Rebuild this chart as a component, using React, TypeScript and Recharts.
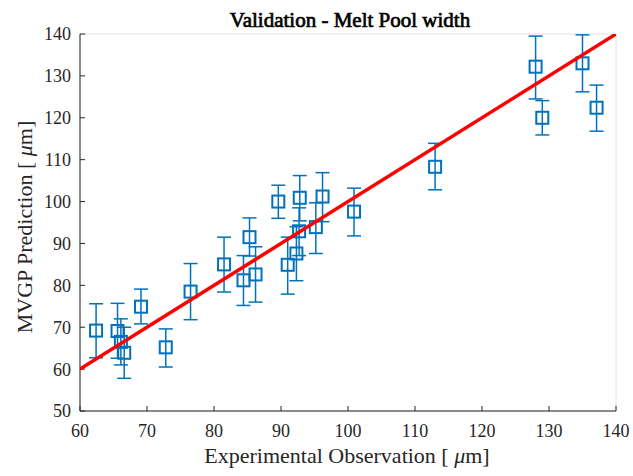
import React from "react";
import { ScatterChart, Scatter, XAxis, YAxis, CartesianGrid, ErrorBar, Label } from "recharts";

// experimental observation (x) vs MVGP prediction (y), with lower / upper error
const expObs = [62.4, 65.6, 66.1, 66.6, 69.1, 72.8, 76.5, 81.5, 84.4, 85.3, 86.2, 89.6, 91.0, 92.3, 92.7, 92.8, 95.2, 96.2, 100.9, 113.0, 128.0, 129.0, 135.0, 137.1];
const mvgpPred = [69.2, 69.1, 66.5, 63.9, 74.9, 65.2, 78.5, 85.0, 81.2, 91.5, 82.6, 100.0, 84.9, 87.6, 92.9, 100.9, 93.9, 101.2, 97.6, 108.3, 132.2, 120.0, 133.0, 122.4];
const errLow = [6.5, 6.5, 5.5, 6.1, 4.1, 4.7, 6.7, 6.6, 6.0, 4.5, 6.6, 4.0, 7.0, 6.5, 5.8, 5.5, 6.3, 6.0, 5.8, 5.5, 7.7, 4.1, 6.8, 5.6];
const errHigh = [6.4, 6.6, 5.5, 6.1, 4.2, 4.4, 6.7, 6.5, 5.9, 4.6, 6.6, 3.9, 6.6, 6.4, 5.6, 5.3, 5.8, 5.7, 5.6, 5.6, 7.3, 4.1, 6.8, 5.4];

const xTicks = [60, 70, 80, 90, 100, 110, 120, 130, 140];
const yTicks = [50, 60, 70, 80, 90, 100, 110, 120, 130, 140];
const idealX = [60, 140];

const points = expObs.map((x, i) => ({ x, y: mvgpPred[i], err: [errLow[i], errHigh[i]] }));
const ideal = idealX.map((v) => ({ x: v, y: v }));

const BLUE = "#0072BD";
const AXIS = "#262626";
const FONT = "Liberation Serif";

const Square = (props: any) => {
  const { cx, cy } = props;
  if (cx == null || cy == null) return null;
  return <rect x={cx - 6} y={cy - 6} width={12} height={12} fill="none" stroke={BLUE} strokeWidth={2} />;
};

const tickStyle = { fontSize: 18, fill: AXIS, fontFamily: FONT };

export default function App() {
  return (
    <div style={{ position: "absolute", left: 0, top: 0, width: 633, height: 476, background: "#fff" }}>
      <ScatterChart width={633} height={476} margin={{ top: 34, right: 17, bottom: 0, left: 0 }}>
        <CartesianGrid stroke="#e0e0e0" strokeWidth={1} />
        <XAxis
          xAxisId="b"
          type="number"
          dataKey="x"
          domain={[60, 140]}
          ticks={xTicks}
          height={65}
          allowDataOverflow
          stroke={AXIS}
          tick={tickStyle}
          tickSize={-5}
          tickMargin={18}
        >
          <Label
            content={() => (
              <g>
                <text
                  x={350}
                  y={27}
                  textAnchor="middle"
                  fontSize={21}
                  fontFamily={FONT}
                  fill="#000"
                  stroke="#000"
                  strokeWidth={0.7}
                >
                  Validation - Melt Pool width
                </text>
                <text x={347} y={463} textAnchor="middle" fontSize={22} fontFamily={FONT} fill={AXIS}>
                  Experimental Observation [  <tspan fontStyle="italic">μ</tspan>m]
                </text>
              </g>
            )}
          />
        </XAxis>
        <XAxis
          xAxisId="t"
          orientation="top"
          type="number"
          dataKey="x"
          domain={[60, 140]}
          ticks={xTicks}
          height={0}
          allowDataOverflow
          stroke={AXIS}
          tickFormatter={() => ""}
          tickSize={-5}
        />
        <YAxis
          yAxisId="l"
          type="number"
          dataKey="y"
          domain={[50, 140]}
          ticks={yTicks}
          width={80}
          allowDataOverflow
          stroke={AXIS}
          tick={tickStyle}
          tickSize={-5}
          tickMargin={14}
        >
          <Label
            content={() => (
              <text
                x={32}
                y={227}
                transform="rotate(-90 32 227)"
                textAnchor="middle"
                fontSize={22}
                fontFamily={FONT}
                fill={AXIS}
              >
                MVGP Prediction [ <tspan fontStyle="italic">μ</tspan>m]
              </text>
            )}
          />
        </YAxis>
        <YAxis
          yAxisId="r"
          orientation="right"
          type="number"
          dataKey="y"
          domain={[50, 140]}
          ticks={yTicks}
          width={0}
          allowDataOverflow
          stroke={AXIS}
          tickFormatter={() => ""}
          tickSize={-5}
        />
        <Scatter
          xAxisId="b"
          yAxisId="l"
          data={points}
          shape={<Square />}
          isAnimationActive={false}
        >
          <ErrorBar dataKey="err" direction="y" width={7} stroke={BLUE} strokeWidth={1.5} />
        </Scatter>
        <Scatter
          xAxisId="b"
          yAxisId="l"
          data={ideal}
          line={{ stroke: "#ff0000", strokeWidth: 3.5 }}
          shape={() => null}
          isAnimationActive={false}
        />
      </ScatterChart>
    </div>
  );
}
